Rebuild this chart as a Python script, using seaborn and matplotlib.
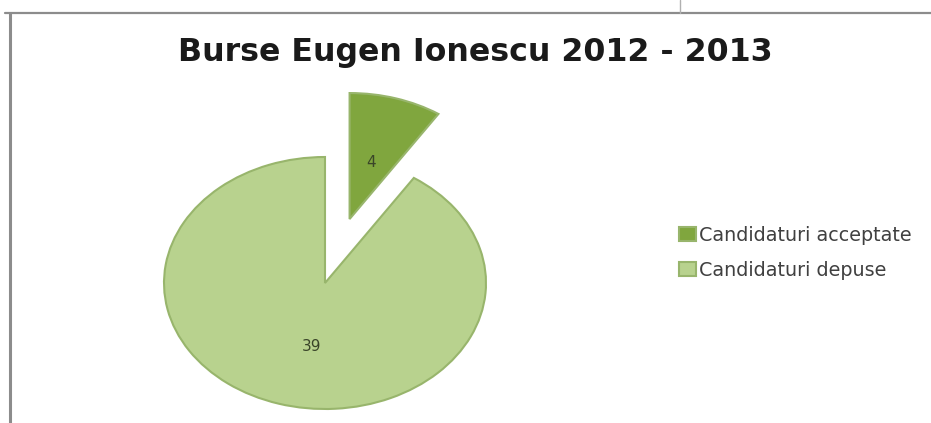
"""
Burse Eugen Ionescu 2012 - 2013
"""
import numpy as np
import pandas as pd
import matplotlib.pyplot as plt
import seaborn as sns
from matplotlib.lines import Line2D

labels = ['Candidaturi acceptate', 'Candidaturi depuse']
values = [4, 39]
colors = ['#80a63e', '#b8d28e']
title = 'Burse Eugen Ionescu 2012 - 2013'

sns.set_theme(style='white')
plt.rcParams['font.family'] = ['DejaVu Sans']

W, H = 931, 423
fig = plt.figure(figsize=(W / 100, H / 100), dpi=100)

# pie: squashed ellipse, center ~ (325, 283) px, radii 161 x 126 px
cx, cy, rx, ry = 325, 283, 161, 126
xl, xr, yb, yt = -1.1, 1.1, -1.1, 1.6
ax = fig.add_axes([(cx + xl * rx) / W, (H - cy + yb * ry) / H,
                   (xr - xl) * rx / W, (yt - yb) * ry / H])

total = sum(values)
wedges, texts, autotexts = ax.pie(
    values, colors=colors, startangle=90, counterclock=False,
    explode=[0.53, 0], autopct=lambda p: f'{round(p * total / 100)}',
    pctdistance=0.47,
    wedgeprops=dict(edgecolor='#98b56c', linewidth=1.5),
    textprops=dict(color='#3a4529', fontsize=11))
ax.set_aspect('auto')
ax.set_xlim(xl, xr)
ax.set_ylim(yb, yt)
ax.axis('off')

# nudge the big label a little lower/right like the original
px, py = autotexts[1].get_position()
autotexts[1].set_position((px + 0.05, py - 0.05))

fig.text(475 / W, 1 - 53 / H, title, ha='center', va='center',
         fontsize=22.8, fontweight='bold', color='#1a1a1a')

fig.legend(wedges, labels, loc='center left',
           bbox_to_anchor=(662 / W, 1 - 253 / H), frameon=False,
           handlelength=0.85, handleheight=0.75, handletextpad=0.2,
           labelspacing=0.85, fontsize=13.8, labelcolor='#404040')

# frame lines of the cell
grey = '#8c8c8c'
fig.add_artist(Line2D([5 / W, 1], [1 - 13 / H, 1 - 13 / H], color=grey, lw=1.6))
fig.add_artist(Line2D([10 / W, 10 / W], [0, 1 - 13 / H], color=grey, lw=2.2))
fig.add_artist(Line2D([680 / W, 680 / W], [1 - 13 / H, 1], color='#b0b0b0', lw=1))

plt.savefig('out.png', dpi=100)
